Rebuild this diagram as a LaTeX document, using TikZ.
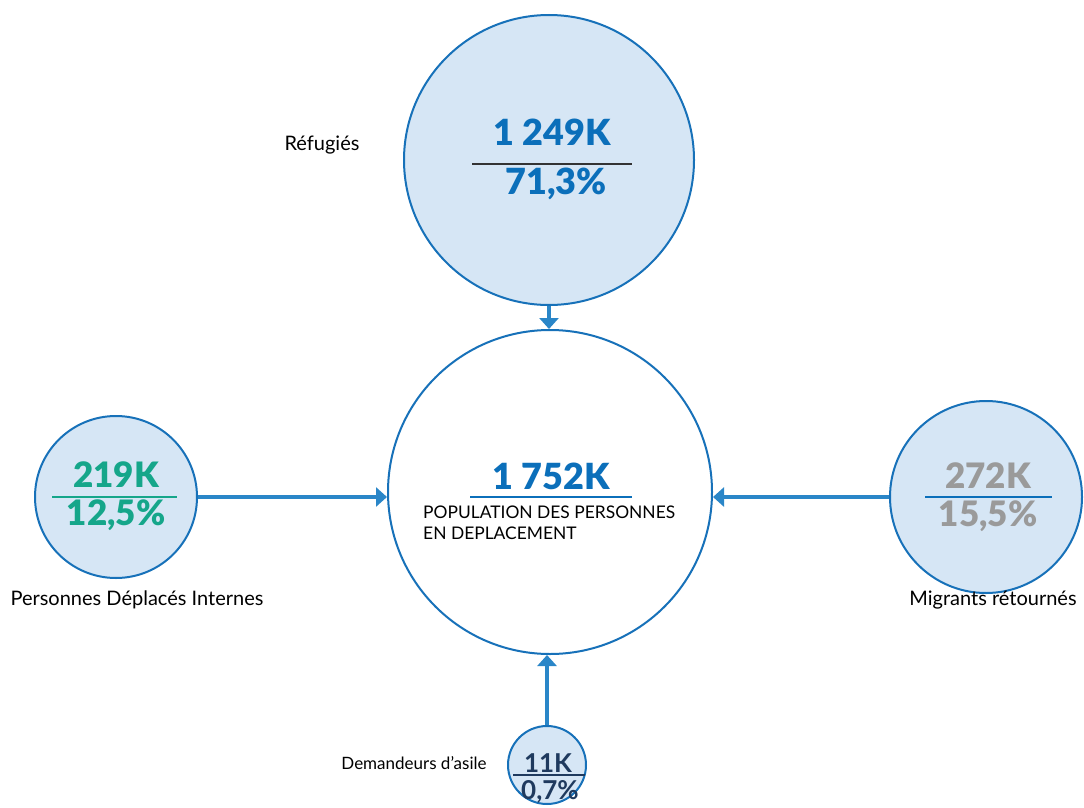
\documentclass[tikz,border=0pt]{standalone}
\usepackage{fontspec}
\setmainfont{Lato}
\newfontfamily\heavyfont{Lato Black}
\usetikzlibrary{arrows.meta}
\definecolor{rimblue}{HTML}{1771B9}
\definecolor{bubblefill}{HTML}{D6E6F5}
\definecolor{feedblue}{HTML}{2A86C8}
\definecolor{numblue}{HTML}{0B6FBA}
\definecolor{numgreen}{HTML}{15A68A}
\definecolor{numgray}{HTML}{9A9A9A}
\definecolor{numnavy}{HTML}{1F3A5E}
\begin{document}
\begin{tikzpicture}[x=1pt, y=-1pt,
	bubble/.style={circle, draw=rimblue, line width=2pt, fill=bubblefill, inner sep=0pt},
	feed/.style={draw=feedblue, line width=3.5pt, -{Triangle[length=11pt, width=19pt]}},
	bignum/.style={font=\fontsize{36}{40}\heavyfont, inner sep=0pt},
	midnum/.style={font=\fontsize{35}{38}\heavyfont, inner sep=0pt},
	label/.style={font=\fontsize{20}{24}\selectfont, inner sep=0pt}]
	\useasboundingbox (0,0) rectangle (1084,808);
	% circles
	\node[bubble, minimum size=290pt] (refug) at (549,160) {};
	\node[bubble, fill=white, minimum size=324pt] (total) at (550,492) {};
	\node[bubble, minimum size=162pt] (pdi) at (116,497) {};
	\node[bubble, minimum size=192pt] (migr) at (986,497) {};
	\node[bubble, minimum size=78pt] (asile) at (547,765) {};
	% flows into the total
	\draw[feed] (refug.south) -- (refug.south |- total.north);
	\draw[feed] (pdi.east) -- (total.west |- pdi.east);
	\draw[feed] (migr.west) -- (total.east |- migr.west);
	\draw[feed] (asile.north) -- (asile.north |- total.south);
	% refugies
	\node[bignum, text=numblue] (refugk) at (552,132) {1 249K};
	\draw[line width=2.5pt, color=black!80] (472,164) -- (632,164);
	\node[bignum, text=numblue] (refugp) at (556,184) {71,3\%};
	\node[label] (refuglab) at (322,145) {Réfugiés};
	% total
	\node[bignum, text=numblue] (totalk) at (551,476) {1 752K};
	\draw[line width=2.5pt, color=numblue] (470,497) -- (632,497);
	\node[label, font=\fontsize{17.4}{21}\selectfont, align=left, anchor=north west] (totallab) at (423,506) {POPULATION DES PERSONNES\\EN DEPLACEMENT};
	% pdi
	\node[midnum, text=numgreen] (pdik) at (116,475) {219K};
	\draw[line width=2.5pt, color=numgreen] (52,497) -- (177,497);
	\node[midnum, text=numgreen] (pdip) at (116,515) {12,5\%};
	\node[label] (pdilab) at (137,600) {Personnes Déplacés Internes};
	% migrants
	\node[midnum, text=numgray] (migrk) at (988,476) {272K};
	\draw[line width=2.5pt, color=numblue] (925,497) -- (1052,497);
	\node[midnum, text=numgray] (migrp) at (988,516) {15,5\%};
	\node[label] (migrlab) at (993,600) {Migrants rétournés};
	% asile
	\node[font=\fontsize{26}{28}\selectfont\bfseries, inner sep=0pt, text=numnavy] (asilek) at (548,763) {11K};
	\draw[line width=2.5pt, color=numnavy] (513,775) -- (585,775);
	\node[font=\fontsize{26}{28}\selectfont\bfseries, inner sep=0pt, text=numnavy] (asilep) at (550,792) {0,7\%};
	\node[label, font=\fontsize{17}{20}\selectfont] (asilelab) at (414,763) {Demandeurs d’asile};
\end{tikzpicture}
\end{document}
